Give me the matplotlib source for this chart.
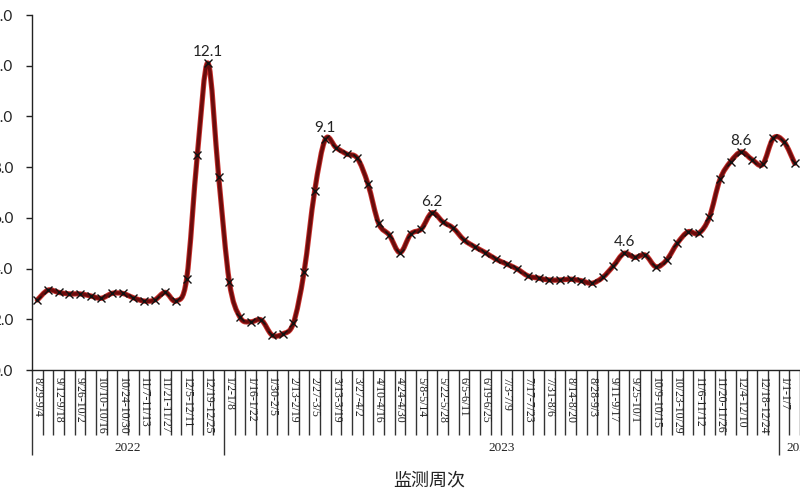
import matplotlib
matplotlib.use("Agg")
import matplotlib.pyplot as plt
from matplotlib.path import Path
from matplotlib.patches import PathPatch
import matplotlib.transforms as mtransforms

plt.rcParams['font.family'] = ['Lato', 'DejaVu Sans']

# ---- data ----
values = [2.76, 3.15, 3.06, 3.00, 3.00, 2.92, 2.83, 3.02, 3.02, 2.85,
          2.72, 2.76, 3.06, 2.72, 3.60, 8.48, 12.1, 7.62, 3.48, 2.08,
          1.90, 1.97, 1.38, 1.42, 1.84, 3.85, 7.06, 9.10, 8.77, 8.52,
          8.35, 7.33, 5.78, 5.32, 4.63, 5.36, 5.56, 6.20, 5.85, 5.59,
          5.13, 4.86, 4.63, 4.37, 4.18, 3.98, 3.71, 3.62, 3.55, 3.55,
          3.58, 3.52, 3.42, 3.65, 4.10, 4.60, 4.44, 4.53, 4.07, 4.34,
          5.00, 5.45, 5.39, 6.02, 7.52, 8.22, 8.60, 8.30, 8.11, 9.14,
          9.00, 8.15]

week_labels = ["8/29-9/4", "9/12-9/18", "9/26-10/2", "10/10-10/16", "10/24-10/30",
               "11/7-11/13", "11/21-11/27", "12/5-12/11", "12/19-12/25",
               "1/2-1/8", "1/16-1/22", "1/30-2/5", "2/13-2/19", "2/27-3/5",
               "3/13-3/19", "3/27-4/2", "4/10-4/16", "4/24-4/30", "5/8-5/14",
               "5/22-5/28", "6/5-6/11", "6/19-6/25", "7/3-7/9", "7/17-7/23",
               "7/31-8/6", "8/14-8/20", "8/28-9/3", "9/11-9/17", "9/25-10/1",
               "10/9-10/15", "10/23-10/29", "11/6-11/12", "11/20-11/26",
               "12/4-12/10", "12/18-12/24", "1/1-1/7"]
label_step = 2

years = ["2022", "2023", "2024"]
year_start = [0, 18, 70]          # first week index of each year
year_end = [17, 69, 73]           # last week index of each year

peak_idx = [16, 27, 37, 55, 66]

y_ticks = [0, 2, 4, 6, 8, 10, 12, 14]
x_title = "监测周次"

# ---- figure ----
fig = plt.figure(figsize=(8, 5), dpi=100)
ax = fig.add_axes([0.04, 0.26, 0.96, 0.71])

n = len(values)
xs = list(range(n))

# smooth curve (Catmull-Rom -> cubic Bezier) through the data points
verts = [(xs[0], values[0])]
codes = [Path.MOVETO]
for i in range(n - 1):
    p0 = (xs[max(i - 1, 0)], values[max(i - 1, 0)])
    p1 = (xs[i], values[i])
    p2 = (xs[i + 1], values[i + 1])
    p3 = (xs[min(i + 2, n - 1)], values[min(i + 2, n - 1)])
    c1 = (p1[0] + (p2[0] - p0[0]) / 6.0, p1[1] + (p2[1] - p0[1]) / 6.0)
    c2 = (p2[0] - (p3[0] - p1[0]) / 6.0, p2[1] - (p3[1] - p1[1]) / 6.0)
    verts += [c1, c2, p2]
    codes += [Path.CURVE4] * 3
path = Path(verts, codes)
ax.add_patch(PathPatch(path, fill=False, edgecolor='#c8302c', lw=3.8, zorder=2,
                       capstyle='round', joinstyle='round'))
ax.add_patch(PathPatch(path, fill=False, edgecolor='#6a0c0c', lw=2.5, zorder=3,
                       capstyle='round', joinstyle='round'))

ax.plot(xs, values, linestyle='none', marker='x', color='#111111',
        markersize=5.5, markeredgewidth=1.0, zorder=4)

for i in peak_idx:
    ax.annotate(f"{values[i]:.1f}", xy=(xs[i], values[i]), xytext=(0, 3),
                textcoords='offset points', ha='center', va='bottom',
                fontsize=11, color='#222222', zorder=5)

# y axis
ax.set_yticks(y_ticks)
ax.set_yticklabels([f"{v:.1f}" for v in y_ticks], fontsize=11, color='#222222')
ax.tick_params(axis='y', direction='out', length=4, width=1, pad=9.5, colors='#222222')

for s in ['top', 'right']:
    ax.spines[s].set_visible(False)
for s in ['left', 'bottom']:
    ax.spines[s].set_color('#222222')
    ax.spines[s].set_linewidth(1.0)

# x axis: boundary ticks (minor) and year separators (major)
boundaries = [i - 0.5 for i in range(0, 74)]
separators = [s - 0.5 for s in year_start]
ax.set_xticks(separators)
ax.set_xticklabels([])
ax.set_xticks(boundaries, minor=True)
ax.tick_params(axis='x', which='major', direction='out', length=61, width=1.0, colors='#333333')
ax.tick_params(axis='x', which='minor', direction='out', length=47, width=1.0, colors='#333333')

ax.set_xlim(-0.5, 71.5)
ax.set_ylim(0, 14)

trans = mtransforms.blended_transform_factory(ax.transData, ax.transAxes)
for k, lab in enumerate(week_labels):
    i = k * label_step
    ax.annotate(lab, xy=(i, 0), xycoords=trans, xytext=(0, -5),
                textcoords='offset points', rotation=-90, ha='center', va='top',
                fontsize=8.5, family=['Liberation Serif', 'DejaVu Serif'],
                color='#222222', annotation_clip=False)

for yr, a, b in zip(years, year_start, year_end):
    ax.annotate(yr, xy=((a + b) / 2.0, 0), xycoords=trans, xytext=(0, -56),
                textcoords='offset points', ha='center', va='center',
                fontsize=9.5, family=['Liberation Serif', 'DejaVu Serif'],
                color='#222222', annotation_clip=False)

fig.text(429 / 800, 1 - 480 / 500, x_title, ha='center', va='center',
         fontsize=13, family=['Noto Sans CJK SC', 'DejaVu Sans'], color='#222222')

fig.savefig("out.png", dpi=100)
